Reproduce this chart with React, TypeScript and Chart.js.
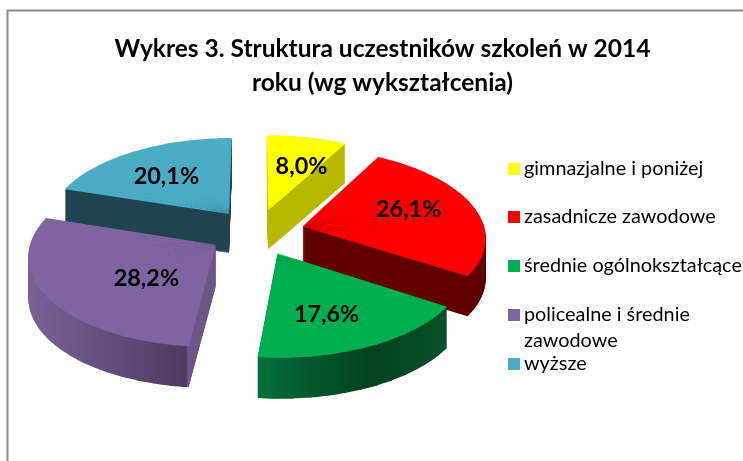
import React, { useEffect, useRef } from "react";
import { Chart, registerables } from "chart.js";

Chart.register(...registerables);

const categories = [
  "gimnazjalne i poniżej",
  "zasadnicze zawodowe",
  "średnie ogólnokształcące",
  "policealne i średnie zawodowe",
  "wyższe",
];
const values = [8.0, 26.1, 17.6, 28.2, 20.1];
const titleLines = ["Wykres 3. Struktura uczestników szkoleń w 2014", "roku (wg wykształcenia)"];
const colors = ["#FFFF00", "#FF0000", "#00B050", "#8064A2", "#4BACC6"];

// camera model of the tilted pie (unit-plan coordinates -> page)
const CX = 256.5, CY = 232, RX = 183, RY = 88, PERSP = 0.11, EXPLODE = 0.26, DEPTH = 40;
const STEP = Math.PI / 36;
const project = (u: number, v: number) => {
  const s = 1 / (1 - PERSP * v);
  return { x: CX + RX * u * s, y: CY + RY * v * s, s };
};

// side wall paint per slice: [page x start, page x end, stops]
const wallPaint: [number, number, [number, string][]][] = [
  [260, 350, [[0, "#b8b800"], [1, "#b8b800"]]],
  [300, 490, [[0, "#600000"], [1, "#600000"]]],
  [256, 447, [[0, "#00703a"], [0.3, "#03572c"], [0.6, "#03421f"], [1, "#06512a"]]],
  [30, 218, [[0, "#7a6096"], [0.83, "#4e3b60"], [0.84, "#6d5588"], [1, "#6d5588"]]],
  [60, 235, [[0, "#1f444f"], [1, "#1f444f"]]],
];
const labelNudge: [number, number][] = [[8, 4], [-2, -4], [-7, 5], [34, 1], [-1, 3]];
const LABEL_FRACTION = 0.63;

const legendRows: { square: number; lines: [string, number][] }[] = [
  { square: 163, lines: [["gimnazjalne i poniżej", 175]] },
  { square: 211, lines: [["zasadnicze zawodowe", 223]] },
  { square: 260, lines: [["średnie ogólnokształcące", 272]] },
  { square: 309, lines: [["policealne i średnie", 321], ["zawodowe", 347]] },
  { square: 358, lines: [["wyższe", 370]] },
];

const slicePlan = (arc: any) => {
  const a0 = arc.startAngle, a1 = arc.endAngle, m = (a0 + a1) / 2;
  return { a0, a1, m, ex: EXPLODE * Math.cos(m), ey: EXPLODE * Math.sin(m) };
};

// affine map of one wedge [a0, a1] of an arc onto the projected plan
const wedgeMatrix = (arc: any, a0: number, a1: number, ex: number, ey: number) => {
  const R = arc.outerRadius;
  const u1 = [R * Math.cos(a0), R * Math.sin(a0)];
  const u2 = [R * Math.cos(a1), R * Math.sin(a1)];
  const D0 = project(ex, ey);
  const D1 = project(ex + Math.cos(a0), ey + Math.sin(a0));
  const D2 = project(ex + Math.cos(a1), ey + Math.sin(a1));
  const v1 = [D1.x - D0.x, D1.y - D0.y];
  const v2 = [D2.x - D0.x, D2.y - D0.y];
  const det = u1[0] * u2[1] - u2[0] * u1[1];
  const a = (v1[0] * u2[1] - v2[0] * u1[1]) / det;
  const c = (v2[0] * u1[0] - v1[0] * u2[0]) / det;
  const b = (v1[1] * u2[1] - v2[1] * u1[1]) / det;
  const d = (v2[1] * u1[0] - v1[1] * u2[0]) / det;
  return { a, b, c, d, e: D0.x - a * arc.x - c * arc.y, f: D0.y - b * arc.x - d * arc.y, depth: DEPTH * D0.s };
};

const pie3d = {
  id: "pie3d",
  beforeDraw(chart: any) {
    const ctx = chart.ctx;
    ctx.save();
    ctx.strokeStyle = "#8a8a8a";
    ctx.lineWidth = 2;
    ctx.beginPath();
    ctx.moveTo(7.5, 461);
    ctx.lineTo(7.5, 10.5);
    ctx.lineTo(743, 10.5);
    ctx.stroke();
    ctx.restore();
  },
  beforeDatasetsDraw(chart: any) {
    const ctx = chart.ctx;
    const arcs: any[] = chart.getDatasetMeta(0).data;
    const order = arcs
      .map((arc, i) => ({ arc, i }))
      .sort((p, q) => slicePlan(p.arc).ey - slicePlan(q.arc).ey);
    for (const { arc, i } of order) {
      const { a0, a1, ex, ey } = slicePlan(arc);
      const base = arc.options;
      const [x0, x1, stops] = wallPaint[i];
      const L = x1 - x0;
      const parts = Math.ceil((a1 - a0) / STEP);
      const depth = Math.round(DEPTH * project(ex, ey).s);
      for (let dy = depth; dy >= 0; dy--) {
        for (let k = 0; k < parts; k++) {
          const s0 = a0 + ((a1 - a0) * k) / parts;
          const s1 = Math.min(a1, a0 + ((a1 - a0) * (k + 1)) / parts + 0.01);
          const M = wedgeMatrix(arc, s0, s1, ex, ey);
          let fill: any = colors[i];
          if (dy > 0) {
            const n2 = M.a * M.a + M.c * M.c;
            const px = (M.a * (x0 - M.e)) / n2, py = (M.c * (x0 - M.e)) / n2;
            fill = ctx.createLinearGradient(px, py, px + (M.a * L) / n2, py + (M.c * L) / n2);
            stops.forEach(([t, col]) => fill.addColorStop(t, col));
          }
          ctx.save();
          ctx.translate(0, dy);
          ctx.transform(M.a, M.b, M.c, M.d, M.e, M.f);
          const saved = [arc.startAngle, arc.endAngle, arc.circumference];
          arc.startAngle = s0;
          arc.endAngle = s1;
          arc.circumference = s1 - s0;
          arc.options = { ...base, backgroundColor: fill, borderWidth: 0, offset: 0 };
          arc.draw(ctx);
          [arc.startAngle, arc.endAngle, arc.circumference] = saved;
          ctx.restore();
        }
      }
      arc.options = base;
    }
    return false;
  },
  afterDraw(chart: any) {
    const ctx = chart.ctx;
    const arcs: any[] = chart.getDatasetMeta(0).data;
    ctx.save();
    ctx.fillStyle = "#000";
    ctx.textAlign = "center";
    ctx.textBaseline = "middle";
    ctx.font = "bold 23.4px Lato";
    arcs.forEach((arc, i) => {
      const { m, ex, ey } = slicePlan(arc);
      const p = project(ex + LABEL_FRACTION * Math.cos(m), ey + LABEL_FRACTION * Math.sin(m));
      ctx.fillText(values[i].toFixed(1).replace(".", ",") + "%", p.x + labelNudge[i][0], p.y + labelNudge[i][1]);
    });
    ctx.textAlign = "left";
    ctx.textBaseline = "alphabetic";
    ctx.font = "19.85px Lato";
    legendRows.forEach((row, i) => {
      ctx.fillStyle = colors[i];
      ctx.fillRect(508, row.square, 12, 12);
      ctx.fillStyle = "#000";
      row.lines.forEach(([t, y]) => ctx.fillText(t, 524, y));
    });
    ctx.restore();
  },
};

export default function App() {
  const ref = useRef<HTMLCanvasElement>(null);
  useEffect(() => {
    const chart = new Chart(ref.current as HTMLCanvasElement, {
      type: "pie",
      data: {
        labels: categories,
        datasets: [{ data: values, backgroundColor: colors, borderWidth: 0 }],
      },
      options: {
        animation: false,
        responsive: false,
        events: [],
        layout: { padding: { left: 22, top: 22 } },
        plugins: {
          legend: { display: false },
          tooltip: { enabled: false },
          title: {
            display: true,
            text: titleLines,
            color: "#000",
            font: { family: "Lato", weight: "bold", size: 24.5, lineHeight: 1.39 },
          },
        },
      },
      plugins: [pie3d],
    } as any);
    return () => chart.destroy();
  }, []);
  return (
    <div style={{ position: "absolute", left: 0, top: 0, width: 743, height: 461, background: "#fff" }}>
      <canvas ref={ref} width={743} height={461} style={{ display: "block" }} />
    </div>
  );
}
